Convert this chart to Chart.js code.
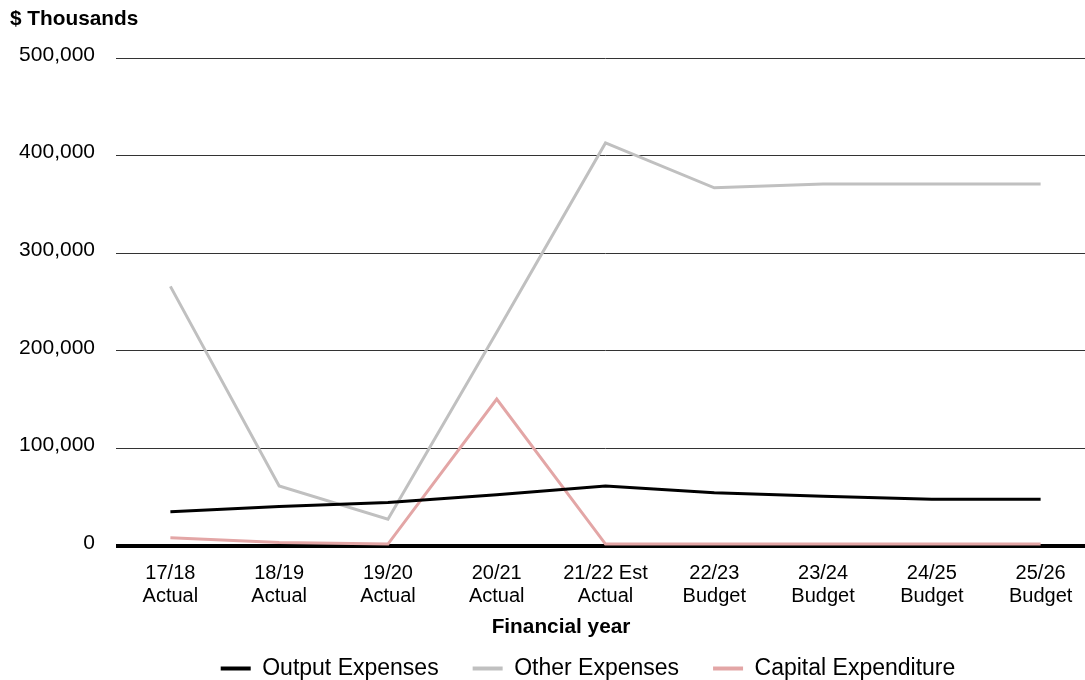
<!DOCTYPE html>
<html>
<head>
<meta charset="utf-8">
<script src="https://cdn.jsdelivr.net/npm/chart.js@4"></script>
<style>
  html, body { margin: 0; padding: 0; background: #fff; overflow: hidden; }
  #wrap { position: relative; width: 1095px; height: 680px; }
</style>
</head>
<body>
<div id="wrap"><canvas id="c"></canvas></div>
<script>
const categories = [
  ['17/18', 'Actual'], ['18/19', 'Actual'], ['19/20', 'Actual'], ['20/21', 'Actual'],
  ['21/22 Est', 'Actual'], ['22/23', 'Budget'], ['23/24', 'Budget'], ['24/25', 'Budget'], ['25/26', 'Budget']
];
const outputExpenses = [35000, 40500, 44500, 52500, 61500, 54500, 51000, 48000, 48000];
const otherExpenses = [266000, 61500, 27500, 219000, 413000, 367000, 371000, 371000, 371000];
const capitalExpenditure = [8500, 3500, 2000, 150500, 2000, 2000, 2000, 2000, 2000];
const yTicks = [0, 100000, 200000, 300000, 400000, 500000];
const seriesNames = ['Output Expenses', 'Other Expenses', 'Capital Expenditure'];
const seriesColors = ['#000000', '#c0c0c0', '#e3a6a6'];
const yTitle = '$ Thousands';
const xTitle = 'Financial year';

const FONT = "'Liberation Sans', Arial, sans-serif";

const textPlugin = {
  id: 'extraText',
  afterDraw(chart) {
    const ctx = chart.ctx;
    ctx.save();
    ctx.fillStyle = '#000';
    ctx.font = 'bold 20.8px ' + FONT;
    ctx.textBaseline = 'middle';
    ctx.textAlign = 'left';
    ctx.fillText(yTitle, 10, 19);
    ctx.textAlign = 'center';
    ctx.fillText(xTitle, 561, 627);
    ctx.restore();
  }
};

const values = [outputExpenses, otherExpenses, capitalExpenditure];
const datasets = seriesNames.map((name, i) => ({
  label: name,
  data: values[i],
  borderColor: seriesColors[i],
  backgroundColor: seriesColors[i],
  borderWidth: 3,
  pointRadius: 0,
  tension: 0,
  fill: false
}));

new Chart(document.getElementById('c'), {
  type: 'line',
  data: { labels: categories, datasets },
  plugins: [textPlugin],
  options: {
    responsive: true,
    maintainAspectRatio: false,
    animation: false,
    layout: { padding: { left: 81, right: 0, top: 58, bottom: -10 } },
    plugins: {
      title: { display: false },
      tooltip: { enabled: false },
      legend: {
        display: true,
        position: 'bottom',
        labels: {
          font: { family: FONT, size: 23 },
          color: '#000',
          boxWidth: 30,
          boxHeight: 4,
          padding: 34,
          generateLabels(chart) {
            return chart.data.datasets.map((ds, i) => ({
              text: ds.label,
              fillStyle: ds.borderColor,
              strokeStyle: ds.borderColor,
              lineWidth: 0,
              hidden: false,
              datasetIndex: i,
              fontColor: '#000'
            }));
          }
        }
      }
    },
    scales: {
      x: {
        offset: true,
        grid: { display: false },
        border: { display: false },
        ticks: {
          font: { family: FONT, size: 20, lineHeight: 1.15 },
          color: '#000',
          padding: 8,
          maxRotation: 0,
          autoSkip: false
        },
        afterFit(scale) { scale.height += 7; }
      },
      y: {
        min: 0,
        max: 500000,
        afterBuildTicks(scale) { scale.ticks = yTicks.map(v => ({ value: v })); },
        grid: {
          drawTicks: false,
          color: (c) => c.tick && c.tick.value === 0 ? '#000' : '#333333',
          lineWidth: (c) => c.tick && c.tick.value === 0 ? 4 : 1
        },
        border: { display: false },
        ticks: {
          font: { family: FONT, size: 21 },
          color: '#000',
          padding: 21,
          labelOffset: -3,
          callback: (v) => Number(v).toLocaleString('en-US')
        },
        afterFit(scale) {
          scale.width = 35;
          scale._computeLabelArea = () => undefined;
        }
      }
    }
  }
});
</script>
</body>
</html>
